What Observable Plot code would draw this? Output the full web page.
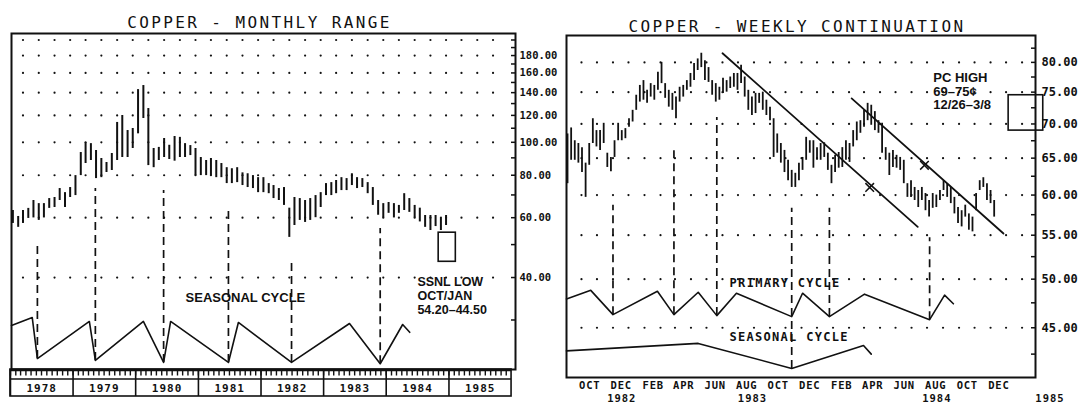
<!DOCTYPE html>
<html><head><meta charset="utf-8">
<script src="https://cdn.jsdelivr.net/npm/d3@7"></script>
<script src="https://cdn.jsdelivr.net/npm/@observablehq/plot@0.6"></script>
<style>
html,body{margin:0;padding:0;background:#fff;}
#wrap{position:relative;width:1081px;height:403px;overflow:hidden;background:#fff;}
#wrap svg{position:absolute;left:0;top:0;background:transparent !important;max-width:none !important;overflow:visible;}
</style></head><body><div id="wrap"></div>
<script>
// ---------------- LEFT: COPPER - MONTHLY RANGE (Jan 1978 - Dec 1984) ----------------
const monthlyStart = "1978-01-15";
const monthlyHigh = [
  63.0,60.5,63.0,63.9,67.4,66.0,66.0,68.3,68.8,73.1,71.1,73.6,
  79.8,93.3,99.8,99.1,94.6,89.6,87.2,92.7,114.4,119.9,108.3,109.8,
  142.9,146.9,125.7,95.9,96.6,102.6,98.0,104.0,103.4,99.1,97.8,95.9,
  90.2,88.4,89.6,88.4,86.6,84.2,83.6,84.2,81.3,80.8,79.8,78.7,
  78.7,75.6,74.6,73.1,73.6,64.0,68.8,68.3,67.4,68.3,69.7,71.1,
  75.6,76.1,77.2,78.7,78.2,80.8,78.7,78.2,76.1,73.6,67.4,66.0,
  66.5,66.0,65.2,70.6,68.3,65.2,64.0,60.9,60.9,60.9,60.2,60.9];
const monthlyLow = [
  57.7,56.2,57.7,59.7,59.9,58.9,59.9,63.9,64.3,67.4,64.3,68.8,
  69.7,79.8,86.6,88.4,78.2,78.7,81.5,82.6,88.4,90.2,90.2,95.9,
  105.9,117.5,85.4,84.2,88.4,90.2,89.0,88.0,90.2,90.2,91.4,79.8,
  79.8,79.8,79.8,78.7,78.7,75.6,75.6,76.1,74.6,73.6,73.1,71.1,
  71.1,70.6,68.3,67.4,65.2,52.5,56.9,58.9,58.1,58.9,60.0,64.3,
  69.7,69.7,70.6,72.1,72.1,74.6,73.1,73.6,70.6,65.2,61.0,59.9,
  61.8,59.9,61.8,63.0,62.2,59.9,58.3,56.2,55.0,56.5,55.0,56.9];
const leftTickValues = [40,60,80,100,120,140,160,180];
const leftMinorTicks = [30,40,50,60,70,80,90,100,110,120,130,140,150,160,170,180,190,200];
const leftGridValues = [40,60,80,100,120,140,160,180,200];
const leftYears = ["1978","1979","1980","1981","1982","1983","1984","1985"];
// seasonal cycle (drawn in the lower band, in price-scale units)
const leftCycleDates = ["1978-01-07","1978-05-08","1978-06-07","1979-04-06","1979-05-11","1980-02-15","1980-06-12","1980-07-23","1981-06-25","1981-08-22","1982-06-28","1983-06-01","1983-11-27","1984-04-06","1984-05-17"];
const leftCycleValues = [28.9,30.5,23.1,29.7,22.8,29.7,22.5,29.7,22.5,29.5,22.5,29.3,22.3,29.1,27.6];
const leftLowDates = ["1978-06-07","1979-05-11","1980-06-12","1981-06-25","1982-06-28","1983-11-27"];
const leftLowTop = [49.7,73.1,72.1,63.9,44.0,55.8];
const leftLowBottom = [23.1,22.8,22.5,22.5,22.5,22.3];
const ssnlDates = ["1984-11-02","1985-02-10"];
const ssnlRange = [44.5,54.2];
const ssnlLines = ["SSNL LOW","OCT/JAN","54.20–44.50"];
const ssnlLineValues = [38.9,35.3,32.0];

// ---------------- RIGHT: COPPER - WEEKLY CONTINUATION ----------------
const weeklyStart = "1982-08-19";
const weeklyHigh = [
  68.5,69.4,67.5,67.1,66.5,64.3,67.1,70.8,69.0,69.0,70.1,65.7,65.1,67.5,70.1,69.0,69.3,70.8,72.1,74.5,
  76.1,76.9,75.3,76.4,76.1,78.3,80.0,76.4,75.3,74.8,74.2,75.8,76.1,76.9,78.1,79.8,80.6,81.6,80.3,79.1,
  76.9,76.4,75.8,77.3,76.9,77.5,78.1,78.1,79.5,77.5,75.3,74.2,74.8,74.8,75.0,73.7,72.6,70.8,68.5,67.1,
  66.1,64.7,63.3,62.9,64.3,65.1,68.0,67.5,67.5,66.5,67.1,67.2,65.7,64.0,65.4,65.8,66.5,67.5,67.1,69.0,
  70.3,70.5,72.1,73.2,72.9,71.9,70.5,70.1,66.5,65.7,66.1,65.4,65.1,64.7,61.5,61.9,61.0,60.6,61.0,60.2,
  59.3,60.2,60.0,60.6,61.9,61.5,61.0,59.7,58.4,58.0,58.7,57.6,57.2,60.2,61.9,62.3,61.5,60.6,59.3];
const weeklyLow = [
  61.5,64.7,64.7,64.3,63.0,59.7,64.0,67.1,66.6,66.1,67.1,63.7,63.1,65.1,67.5,67.5,67.8,69.5,70.3,72.1,
  73.4,73.7,73.2,74.2,73.7,75.3,76.4,74.0,72.6,72.1,70.8,73.4,74.2,75.3,75.8,76.9,78.6,79.1,76.9,76.6,
  74.5,73.4,73.7,74.8,75.0,75.6,75.8,75.3,76.4,74.2,72.1,71.3,71.6,73.2,72.1,71.3,70.5,65.1,65.7,64.3,
  63.0,61.9,61.0,61.0,61.9,63.3,64.7,65.7,63.6,64.7,64.7,65.1,63.3,61.5,63.0,63.6,63.7,64.7,64.4,66.6,
  67.5,68.6,69.5,70.5,69.8,69.0,68.6,65.7,64.7,62.6,63.7,63.6,63.3,61.5,59.7,59.7,59.3,58.4,59.3,58.0,
  57.2,58.3,58.4,59.3,60.6,59.7,58.9,57.6,56.4,56.0,57.2,55.6,55.4,58.0,60.6,61.0,59.3,58.9,57.2];
const rightTickValues = [45,50,55,60,65,70,75,80];
const rightMinorTicks = [42.5,45,47.5,50,52.5,55,57.5,60,62.5,65,67.5,70,72.5,75,77.5,80,82.5];
const rightMonthTicks = ["1982-10-01","1982-12-01","1983-02-01","1983-04-01","1983-06-01","1983-08-01","1983-10-01","1983-12-01","1984-02-01","1984-04-01","1984-06-01","1984-08-01","1984-10-01","1984-12-01"];
const rightYearLabels = ["1982","1983","1984","1985"];
const rightYearDates = ["1982-12-02","1983-08-12","1984-08-03","1985-03-10"];
const primaryDates = ["1982-08-17","1982-10-03","1982-11-15","1983-02-09","1983-03-13","1983-04-29","1983-06-04","1983-07-12","1983-10-27","1983-11-17","1984-01-08","1984-03-16","1984-07-20","1984-08-18","1984-09-04"];
const primaryValues = [47.9,48.8,46.3,48.7,46.3,48.6,46.2,48.5,46.1,48.5,46.1,48.4,45.8,48.3,47.4];
const seasonalDates = ["1982-08-17","1983-04-29","1983-10-27","1984-03-14","1984-03-29"];
const seasonalValues = [42.8,43.5,41.2,43.3,42.5];
const rightLowDates = ["1982-11-15","1983-03-13","1983-06-04","1983-10-27","1984-01-08","1984-07-20"];
const rightLowTop = [58.7,66.5,71.0,58.3,58.3,54.7];
const rightLowBottom = [46.3,46.3,46.2,41.2,46.1,45.8];
const trend1Dates = ["1983-06-15","1984-06-27"];
const trend1Values = [81.6,56.0];
const trend2Dates = ["1984-02-20","1984-12-10"];
const trend2Values = [74.0,55.2];
const crossDates = ["1984-03-26","1984-07-10"];
const crossValues = [61.0,64.0];
const pcDates = ["1984-12-20","1985-02-25"];
const pcRange = [69.0,74.5];
const pcLines = ["PC HIGH","69–75¢","12/26–3/8"];
const pcLineValues = [77.4,75.0,72.9];

// ---------------- build ----------------
const D = s => new Date(s);
const W = 1081, H = 403;
const MONO = "DejaVu Sans Mono";
const SANS = "Liberation Sans, Arial, sans-serif";
const INK = "#111";

const monthly = monthlyHigh.map((h, i) => ({date: d3.utcMonth.offset(D(monthlyStart), i), high: h, low: monthlyLow[i]}));
const weekly = weeklyHigh.map((h, i) => ({date: d3.utcDay.offset(D(weeklyStart), 7 * i), high: h, low: weeklyLow[i]}));
const leftCycle = leftCycleDates.map((d, i) => ({date: D(d), v: leftCycleValues[i]}));
const leftLows = leftLowDates.map((d, i) => ({date: D(d), top: leftLowTop[i], bottom: leftLowBottom[i]}));
const primary = primaryDates.map((d, i) => ({date: D(d), v: primaryValues[i]}));
const seasonal = seasonalDates.map((d, i) => ({date: D(d), v: seasonalValues[i]}));
const rightLows = rightLowDates.map((d, i) => ({date: D(d), top: rightLowTop[i], bottom: rightLowBottom[i]}));
const trend1 = trend1Dates.map((d, i) => ({date: D(d), v: trend1Values[i]}));
const trend2 = trend2Dates.map((d, i) => ({date: D(d), v: trend2Values[i]}));
const crosses = crossDates.map((d, i) => ({date: D(d), v: crossValues[i]}));

const leftGridDates = d3.range(31).map(i => d3.utcMonth.offset(D("1978-03-15"), 3 * i));
const rightGridDates = d3.range(29).map(i => d3.utcMonth.offset(D("1982-09-15"), i));

const leftX = {type: "utc", domain: [D("1978-01-07"), D("1986-01-24")], axis: null, label: null};
const baseStyle = {background: "transparent", color: INK, overflow: "visible", fontFamily: MONO};

const left = Plot.plot({
  width: W, height: H,
  marginLeft: 11, marginRight: W - 515, marginTop: 33, marginBottom: H - 369,
  style: baseStyle,
  x: leftX,
  y: {type: "log", domain: [21.45, 209], label: null},
  marks: [
    Plot.dot(d3.cross(leftGridDates, leftGridValues), {x: d => d[0], y: d => d[1], r: 1.1, fill: INK, stroke: null}),
    Plot.frame({stroke: INK, strokeWidth: 2}),
    Plot.axisY(leftMinorTicks, {anchor: "right", tickSize: 5, dx: -5, tickFormat: () => "", stroke: INK, strokeWidth: 1.5}),
    Plot.axisY(leftTickValues, {anchor: "right", tickSize: 0, tickPadding: 4, tickFormat: d => d.toFixed(2), fontSize: 10.5, fontWeight: "bold", fontFamily: MONO, fill: INK}),
    Plot.ruleX(monthly, {x: "date", y1: "low", y2: "high", stroke: INK, strokeWidth: 2}),
    Plot.ruleX(leftLows, {x: "date", y1: "bottom", y2: "top", stroke: INK, strokeWidth: 1.7, strokeDasharray: "8,5"}),
    Plot.line(leftCycle, {x: "date", y: "v", stroke: INK, strokeWidth: 1.6}),
    Plot.rect([{x1: D(ssnlDates[0]), x2: D(ssnlDates[1]), y1: ssnlRange[0], y2: ssnlRange[1]}], {x1: "x1", x2: "x2", y1: "y1", y2: "y2", fill: "none", stroke: INK, strokeWidth: 1.6}),
    Plot.text(ssnlLines.map((t, i) => ({t, v: ssnlLineValues[i]})), {x: () => D("1984-07-01"), y: "v", text: "t", textAnchor: "start", fontFamily: SANS, fontWeight: "bold", fontSize: 12.5, fill: INK}),
    Plot.text(["SEASONAL CYCLE"], {x: () => D("1981-10-02"), y: () => 34.9, text: d => d, fontFamily: SANS, fontWeight: "bold", fontSize: 13, fill: INK}),
    Plot.text(["COPPER - MONTHLY RANGE"], {frameAnchor: "top", lineAnchor: "middle", dx: -4, dy: -11, text: d => d, fontFamily: MONO, fontSize: 16, fill: INK})
  ]
});

const stripMonths = d3.range(96).map(i => d3.utcMonth.offset(D("1978-01-01"), i));
const stripYears = leftYears.map((y, i) => ({label: y, start: D(`${1978 + i}-01-01`), mid: D(`${1978 + i}-07-02`)}));
const strip = Plot.plot({
  width: W, height: H,
  marginLeft: 11, marginRight: W - 515, marginTop: 369, marginBottom: H - 396,
  style: baseStyle,
  x: leftX,
  y: {domain: [0, 27], range: [369, 396], axis: null, label: null},
  marks: [
    Plot.rect([{a: D("1978-01-01"), b: D("1986-01-01")}], {x1: "a", x2: "b", y1: () => 0, y2: () => 27, fill: "none", stroke: INK, strokeWidth: 1.6}),
    Plot.ruleY([0.6], {x1: () => D("1978-01-01"), x2: () => D("1986-01-01"), stroke: INK, strokeWidth: 2.2}),
    Plot.ruleY([9.5], {x1: () => D("1978-01-01"), x2: () => D("1986-01-01"), stroke: INK, strokeWidth: 1.6}),
    Plot.ruleX(stripMonths, {x: d => d, y1: () => 0, y2: () => 6.5, stroke: INK, strokeWidth: 1.4}),
    Plot.ruleX(stripYears, {x: "start", y1: () => 0, y2: () => 27, stroke: INK, strokeWidth: 1.6}),
    Plot.text(stripYears, {x: "mid", y: () => 18.5, text: "label", fontFamily: MONO, fontWeight: "bold", fontSize: 11, fill: INK})
  ]
});

const right = Plot.plot({
  width: W, height: H,
  marginLeft: 566, marginRight: W - 1035, marginTop: 35, marginBottom: H - 377,
  style: baseStyle,
  x: {type: "utc", domain: [D("1982-08-17"), D("1985-02-10")], label: null},
  y: {type: "log", domain: [40.4, 84.8], label: null},
  marks: [
    Plot.dot(d3.cross(rightGridDates, rightTickValues), {x: d => d[0], y: d => d[1], r: 1.1, fill: INK, stroke: null}),
    Plot.frame({stroke: INK, strokeWidth: 2}),
    Plot.axisY(rightMinorTicks, {anchor: "right", tickSize: 5, dx: -5, tickFormat: () => "", stroke: INK, strokeWidth: 1.5}),
    Plot.axisY(rightTickValues, {anchor: "right", tickSize: 0, tickPadding: 6, tickFormat: d => d.toFixed(2), fontSize: 12, fontWeight: "bold", fontFamily: MONO, fill: INK}),
    Plot.axisX(rightMonthTicks.map(D), {anchor: "bottom", tickSize: 0, tickPadding: 4, tickFormat: d => d3.utcFormat("%b")(d).toUpperCase(), fontSize: 10.5, fontWeight: "bold", fontFamily: MONO, fill: INK}),
    Plot.text(rightYearLabels.map((t, i) => ({t, date: D(rightYearDates[i])})), {x: "date", frameAnchor: "bottom", lineAnchor: "middle", dy: 21, text: "t", fontFamily: MONO, fontWeight: "bold", fontSize: 10.5, fill: INK}),
    Plot.ruleX(weekly, {x: "date", y1: "low", y2: "high", stroke: INK, strokeWidth: 1.8}),
    Plot.ruleX(rightLows, {x: "date", y1: "bottom", y2: "top", stroke: INK, strokeWidth: 1.7, strokeDasharray: "8,5"}),
    Plot.line(primary, {x: "date", y: "v", stroke: INK, strokeWidth: 1.6}),
    Plot.line(seasonal, {x: "date", y: "v", stroke: INK, strokeWidth: 1.6}),
    Plot.line(trend1, {x: "date", y: "v", stroke: INK, strokeWidth: 1.8}),
    Plot.line(trend2, {x: "date", y: "v", stroke: INK, strokeWidth: 1.8}),
    Plot.dot(crosses, {x: "date", y: "v", symbol: "times", r: 4, stroke: INK, strokeWidth: 1.5}),
    Plot.rect([{x1: D(pcDates[0]), x2: D(pcDates[1]), y1: pcRange[0], y2: pcRange[1]}], {x1: "x1", x2: "x2", y1: "y1", y2: "y2", fill: "none", stroke: INK, strokeWidth: 1.6}),
    Plot.text(pcLines.map((t, i) => ({t, v: pcLineValues[i]})), {x: () => D("1984-07-27"), y: "v", text: "t", textAnchor: "start", fontFamily: SANS, fontWeight: "bold", fontSize: 13, fill: INK}),
    Plot.text(["PRIMARY CYCLE"], {x: () => D("1983-10-14"), y: () => 49.6, text: d => d, fontFamily: MONO, fontWeight: "bold", fontSize: 12, fill: INK}),
    Plot.text(["SEASONAL CYCLE"], {x: () => D("1983-10-22"), y: () => 44.1, text: d => d, fontFamily: MONO, fontWeight: "bold", fontSize: 12, fill: INK}),
    Plot.text(["COPPER - WEEKLY CONTINUATION"], {frameAnchor: "top", lineAnchor: "middle", dx: -4, dy: -9, text: d => d, fontFamily: MONO, fontSize: 16, fill: INK})
  ]
});

const wrap = document.getElementById("wrap");
for (const svg of [left, strip, right]) wrap.appendChild(svg);

// letter spacing for the plotter-style lettering
d3.select(wrap).selectAll("text").each(function() {
  const t = this.textContent;
  if (t.startsWith("COPPER")) this.setAttribute("letter-spacing", "2.4");
  else if (t === "PRIMARY CYCLE") this.setAttribute("letter-spacing", "1.3");
  else if (/^(19\d\d)$/.test(t)) this.setAttribute("letter-spacing", "1");
  else if (/^[A-Z]{3}$/.test(t)) this.setAttribute("letter-spacing", "0.8");
});
d3.select(right).selectAll("text").each(function() {
  if (this.textContent === "SEASONAL CYCLE") this.setAttribute("letter-spacing", "1.3");
});
</script></body></html>
